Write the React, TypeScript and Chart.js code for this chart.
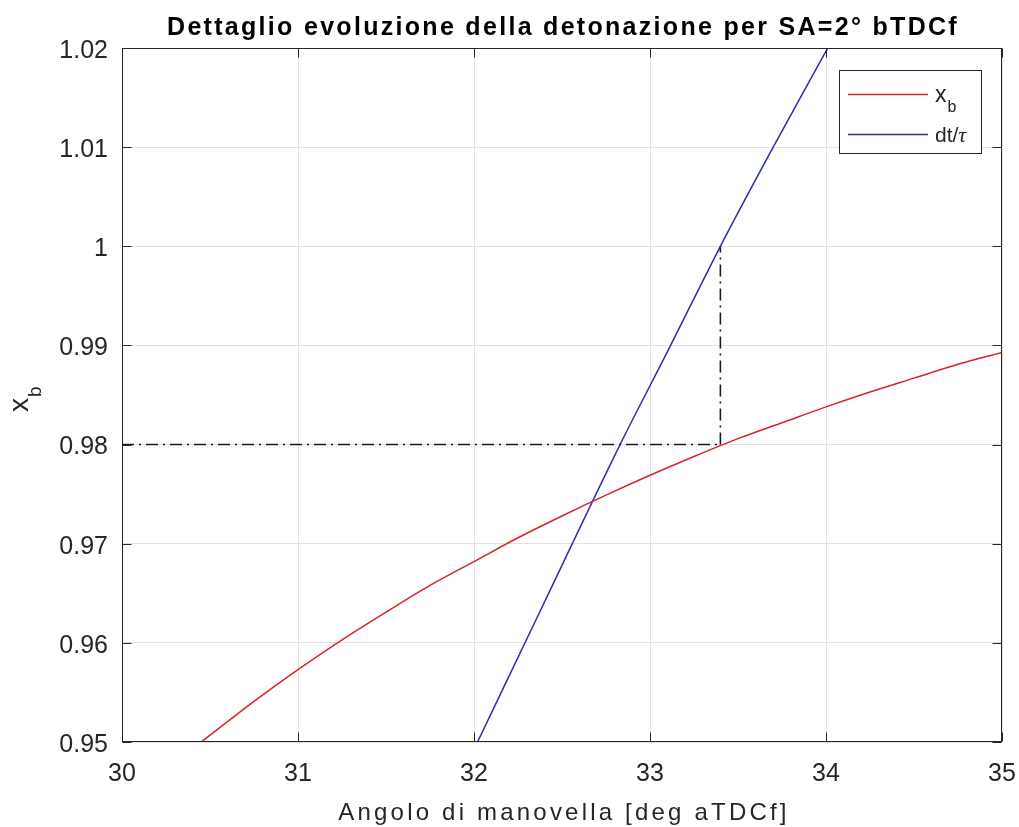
import { useEffect, useRef } from "react";
import { Chart, registerables } from "chart.js";

Chart.register(...registerables);

// Mass fraction burned x_b vs crank angle
const crankAngle = [30.45, 30.75, 31.0, 31.25, 31.5, 31.75, 32.0, 32.25, 32.5, 32.75, 33.0, 33.25, 33.5, 33.75, 34.0, 34.25, 34.5, 34.75, 35.0];
const burnedFraction = [0.95, 0.9541, 0.9573, 0.9603, 0.9631, 0.9658, 0.9682, 0.9706, 0.9728, 0.9749, 0.9769, 0.9788, 0.9806, 0.9822, 0.9838, 0.9853, 0.9867, 0.9881, 0.9893];

// Knock integral dt/tau vs crank angle
const integralAngle = [32.02, 32.4, 32.83, 33.1, 33.4, 33.7, 34.01];
const integralValue = [0.95, 0.9641, 0.98, 0.9894, 1.0, 1.01, 1.02];

// Reference: x_b at knock onset and the angle where dt/tau reaches 1
const xbAtKnock = 0.98;
const knockAngle = 33.4;
const knockLevel = 1.0;
const startAngle = 30;

const xTicks = [30, 31, 32, 33, 34, 35];
const yTicks = [0.95, 0.96, 0.97, 0.98, 0.99, 1.0, 1.01, 1.02];

const TITLE = "Dettaglio evoluzione della detonazione per SA=2° bTDCf";
const X_LABEL = "Angolo di manovella [deg aTDCf]";
const SANS = '"Liberation Sans", Arial, Helvetica, sans-serif';
const AXIS_COLOR = "#262626";
const RED = "#d9232b";
const BLUE = "#2c2cae";

const decorations = {
  id: "decorations",
  afterDraw(chart: any) {
    const { ctx, chartArea: a, scales } = chart;
    const L = Math.round(a.left) + 0.5;
    const R = Math.round(a.right) - 0.5;
    const T = Math.round(a.top) + 0.5;
    const B = Math.round(a.bottom) - 0.5;
    ctx.save();

    // axes box
    ctx.strokeStyle = AXIS_COLOR;
    ctx.lineWidth = 1;
    ctx.strokeRect(L, T, R - L, B - T);

    // inward tick marks on all four sides
    const tl = 9;
    ctx.beginPath();
    for (const v of xTicks) {
      const px = Math.round(scales.x.getPixelForValue(v)) + 0.5;
      ctx.moveTo(px, B);
      ctx.lineTo(px, B - tl);
      ctx.moveTo(px, T);
      ctx.lineTo(px, T + tl);
    }
    for (const v of yTicks) {
      const py = Math.round(scales.y.getPixelForValue(v)) + 0.5;
      ctx.moveTo(L, py);
      ctx.lineTo(L + tl, py);
      ctx.moveTo(R, py);
      ctx.lineTo(R - tl, py);
    }
    ctx.stroke();

    // title
    ctx.fillStyle = "#000";
    ctx.textAlign = "center";
    ctx.textBaseline = "alphabetic";
    ctx.font = `bold 25px ${SANS}`;
    (ctx as any).letterSpacing = "2.3px";
    ctx.fillText(TITLE, (a.left + a.right) / 2 + 1, 35);

    // x axis label
    ctx.fillStyle = AXIS_COLOR;
    ctx.font = `24px ${SANS}`;
    (ctx as any).letterSpacing = "3.2px";
    ctx.fillText(X_LABEL, (a.left + a.right) / 2 + 2, 820);
    (ctx as any).letterSpacing = "0px";

    // y axis label: x_b, rotated
    ctx.save();
    ctx.translate(28, 412);
    ctx.rotate(-Math.PI / 2);
    ctx.textAlign = "left";
    ctx.font = `28px ${SANS}`;
    ctx.fillText("x", 0, 0);
    const xw = ctx.measureText("x").width;
    ctx.font = `19px ${SANS}`;
    ctx.fillText("b", xw + 1, 13);
    ctx.restore();

    // legend
    const lx = 839.5, ly = 70.5, lw = 142, lh = 83;
    ctx.fillStyle = "#fff";
    ctx.fillRect(lx, ly, lw, lh);
    ctx.strokeStyle = AXIS_COLOR;
    ctx.lineWidth = 1;
    ctx.strokeRect(lx, ly, lw, lh);

    ctx.lineWidth = 1.4;
    ctx.strokeStyle = RED;
    ctx.beginPath();
    ctx.moveTo(848, 94.5);
    ctx.lineTo(928, 94.5);
    ctx.stroke();
    ctx.strokeStyle = BLUE;
    ctx.beginPath();
    ctx.moveTo(848, 134.5);
    ctx.lineTo(928, 134.5);
    ctx.stroke();

    ctx.fillStyle = AXIS_COLOR;
    ctx.textAlign = "left";
    ctx.font = `23px ${SANS}`;
    ctx.fillText("x", 935, 102);
    const lxw = ctx.measureText("x").width;
    ctx.font = `16px ${SANS}`;
    ctx.fillText("b", 935 + lxw + 1, 112);

    ctx.font = `21px ${SANS}`;
    ctx.fillText("dt/", 935, 142);
    const dw = ctx.measureText("dt/").width;
    ctx.font = `italic 22px "Liberation Serif", "DejaVu Serif", serif`;
    ctx.fillText("τ", 935 + dw, 142);

    ctx.restore();
  },
};

export default function App() {
  const canvasRef = useRef<HTMLCanvasElement | null>(null);

  useEffect(() => {
    const canvas = canvasRef.current;
    if (!canvas) return;

    const chart = new Chart(canvas, {
      type: "line",
      data: {
        datasets: [
          {
            label: "x_b",
            data: crankAngle.map((x, i) => ({ x, y: burnedFraction[i] })),
            borderColor: RED,
            borderWidth: 1.5,
            pointRadius: 0,
            cubicInterpolationMode: "monotone",
            fill: false,
          },
          {
            label: "dt/tau",
            data: integralAngle.map((x, i) => ({ x, y: integralValue[i] })),
            borderColor: BLUE,
            borderWidth: 1.5,
            pointRadius: 0,
            cubicInterpolationMode: "monotone",
            fill: false,
          },
          {
            label: "xb-ref",
            data: [
              { x: startAngle, y: xbAtKnock },
              { x: knockAngle, y: xbAtKnock },
            ],
            borderColor: "#1a1a1a",
            borderWidth: 1.6,
            borderDash: [12, 5, 2, 5],
            pointRadius: 0,
            fill: false,
          },
          {
            label: "angle-ref",
            data: [
              { x: knockAngle, y: xbAtKnock },
              { x: knockAngle, y: knockLevel },
            ],
            borderColor: "#1a1a1a",
            borderWidth: 1.6,
            borderDash: [12, 5, 2, 5],
            pointRadius: 0,
            fill: false,
          },
        ],
      },
      options: {
        responsive: false,
        animation: false,
        parsing: false as any,
        layout: { padding: { left: 0, top: 48, right: 17, bottom: 0 } },
        plugins: {
          legend: { display: false },
          title: { display: false },
          tooltip: { enabled: false },
        },
        scales: {
          x: {
            type: "linear",
            min: 30,
            max: 35,
            afterBuildTicks: (s: any) => {
              s.ticks = xTicks.map((value) => ({ value }));
            },
            afterFit: (s: any) => {
              s.height = 85;
              s.paddingLeft = 0;
              s.paddingRight = 0;
            },
            grid: { color: "#e2e2e2", lineWidth: 1, drawTicks: false },
            border: { display: false },
            ticks: {
              color: AXIS_COLOR,
              padding: 17,
              maxRotation: 0,
              font: { family: SANS, size: 25 },
              callback: (v: any) => String(v),
            },
          },
          y: {
            type: "linear",
            min: 0.95,
            max: 1.02,
            afterBuildTicks: (s: any) => {
              s.ticks = yTicks.map((value) => ({ value }));
            },
            afterFit: (s: any) => {
              s.width = 122;
              s.paddingTop = 0;
              s.paddingBottom = 0;
            },
            grid: { color: "#e2e2e2", lineWidth: 1, drawTicks: false },
            border: { display: false },
            ticks: {
              color: AXIS_COLOR,
              padding: 14,
              labelOffset: 3,
              font: { family: SANS, size: 25 },
              callback: (v: any) => String(Number(Number(v).toFixed(2))),
            },
          },
        },
      },
      plugins: [decorations],
    });

    return () => chart.destroy();
  }, []);

  return (
    <div style={{ position: "absolute", left: 0, top: 0, width: 1019, height: 827, background: "#fff" }}>
      <canvas ref={canvasRef} width={1019} height={827} />
    </div>
  );
}
